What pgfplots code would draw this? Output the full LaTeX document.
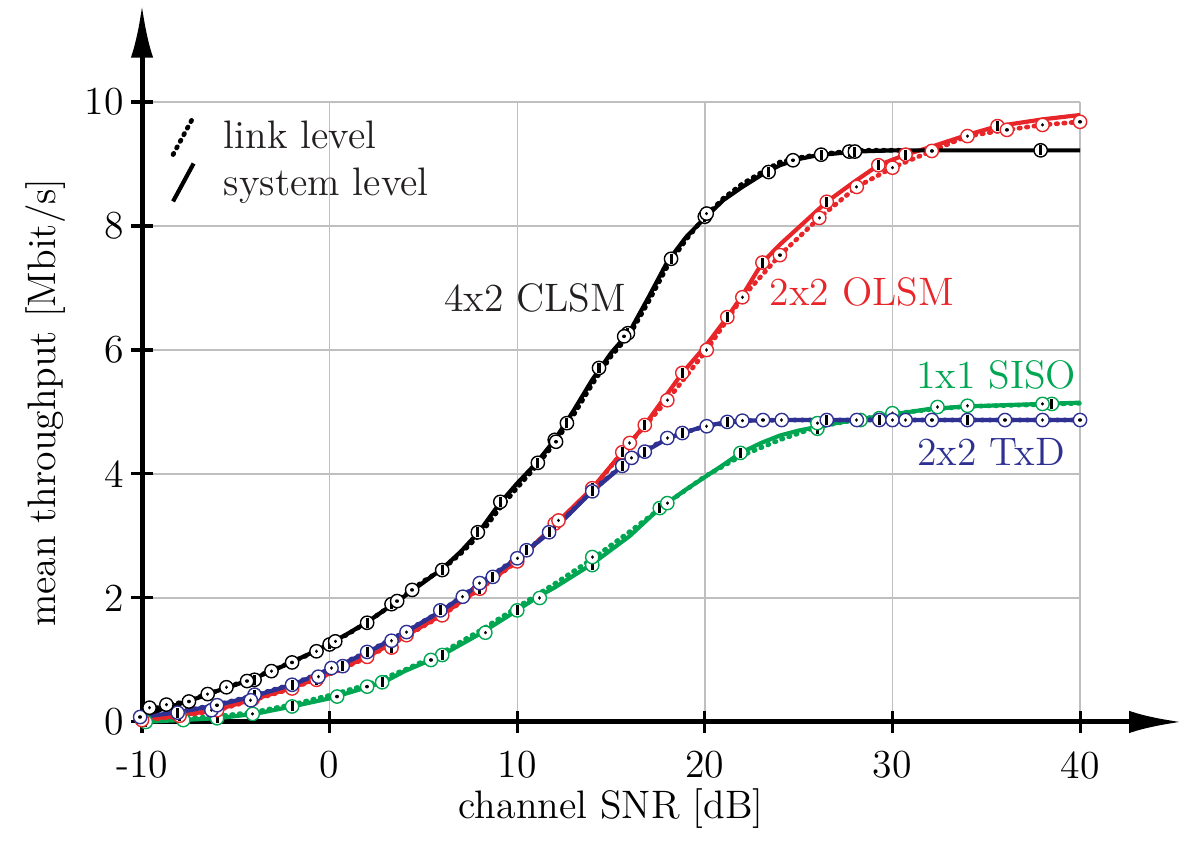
\documentclass[border=0pt]{standalone}
\usepackage{fontspec}
\usepackage{pgfplots}
\pgfplotsset{compat=1.18}
\usetikzlibrary{arrows.meta}
\definecolor{cred}{RGB}{232,38,42}
\definecolor{cgreen}{RGB}{0,166,81}
\definecolor{cblue}{RGB}{46,49,146}
\definecolor{ctext}{RGB}{35,31,32}
\pgfdeclareplotmark{cbar}{%
  \pgfpathcircle{\pgfpointorigin}{\pgfplotmarksize}%
  \pgfusepathqfillstroke
  \pgfscope
  \pgfsetlinewidth{1.1pt}\pgfsetstrokecolor{black}\pgfsetbuttcap
  \pgfpathmoveto{\pgfqpoint{0pt}{-0.75\pgfplotmarksize}}%
  \pgfpathlineto{\pgfqpoint{0pt}{0.75\pgfplotmarksize}}%
  \pgfusepathqstroke
  \endpgfscope}
\pgfdeclareplotmark{cdot}{%
  \pgfpathcircle{\pgfpointorigin}{\pgfplotmarksize}%
  \pgfusepathqfillstroke
  \pgfscope
  \pgfsetlinewidth{1.2pt}\pgfsetstrokecolor{black}\pgfsetroundcap
  \pgfpathmoveto{\pgfqpoint{0pt}{-0.05pt}}%
  \pgfpathlineto{\pgfqpoint{0pt}{0.05pt}}%
  \pgfusepathqstroke
  \endpgfscope}
\tikzset{
  sys/.style={line width=1.5pt, solid},
  lnk/.style={line width=1.7pt, dash pattern=on 0.5pt off 2.2pt, line cap=round},
}
\pgfplotsset{
  mk/.style={only marks, mark size=2.4pt, mark options={fill=white, line width=0.5pt, solid}},
}
\begin{document}
\begin{tikzpicture}[font=\fontsize{14.3}{17.2}\selectfont]
\begin{axis}[
  scale only axis, width=337.7pt, height=223.2pt,
  xmin=-10, xmax=40, ymin=0, ymax=10,
  axis lines=left,
  x axis line style={line width=1.8pt, -{Latex[length=19pt,width=8pt]}, shorten >=-36.7pt},
  y axis line style={line width=1.8pt, -{Latex[length=19pt,width=8pt]}, shorten >=-35pt},
  xtick={-10,0,10,20,30,40}, xticklabels={-10,0,10,20,30,40},
  ytick={0,2,4,6,8,10}, yticklabels={0,2,4,6,8,10},
  tick align=center, major tick length=8pt,
  tick style={line width=1.1pt, black},
  grid=major, grid style={line width=0.5pt, black!25},
  xticklabel style={yshift=-3pt},
  yticklabel style={xshift=1pt},
  clip=false,
  legend cell align=left,
  legend style={draw=none, fill=none, at={(rel axis cs:0.03,0.99)}, anchor=north west,
    row sep=1pt, text=ctext, inner xsep=0pt},
  legend image code/.code={\draw[#1] (0.1cm,-0.22cm) -- (0.36cm,0.26cm); \path (0.62cm,0);},
]
\addlegendimage{black, lnk}
\addlegendentry{link level}
\addlegendimage{black, sys}
\addlegendentry{system level}

% ---------------- green 1x1 SISO
\addplot[cgreen, sys, forget plot] coordinates {(-10,0.0)(-8,0.03)(-6,0.06)(-4,0.13)(-2,0.25)(0,0.38)(2,0.56)(3,0.66)(4,0.82)(6,1.08)(8,1.42)(10,1.8)(11,2.0)(12,2.17)(14,2.55)(16,3.0)(17.6,3.45)(19,3.75)(20,3.95)(21,4.15)(21.9,4.34)(23,4.5)(24,4.62)(25,4.7)(26,4.76)(27,4.82)(28,4.87)(30,4.96)(32,5.05)(34,5.09)(36,5.11)(38,5.13)(40,5.15)};
\addplot[cgreen, lnk, forget plot] coordinates {(-10,0.02)(-8,0.05)(-6,0.09)(-4,0.16)(-2,0.28)(0,0.43)(2,0.6)(4,0.84)(6,1.12)(8,1.47)(10,1.85)(12,2.23)(14,2.63)(16,3.07)(18,3.53)(20,3.96)(22,4.3)(24,4.55)(26,4.76)(28,4.87)(30,4.97)(32,5.04)(34,5.09)(38,5.12)(40,5.14)};
\addplot[cgreen, mk, mark=cbar, forget plot] coordinates {(-9.8,0.0)(-6,0.06)(-2,0.25)(2.8,0.64)(6,1.08)(10,1.8)(14,2.53)(17.6,3.45)(21.9,4.34)(26,4.73)(29.3,4.9)(38.5,5.13)};
\addplot[cgreen, mk, mark=cdot, forget plot] coordinates {(-7.8,0.03)(-4.1,0.13)(0.4,0.41)(2,0.57)(5.4,1.0)(8.3,1.44)(11.2,2.0)(14,2.66)(18,3.53)(26,4.82)(28.3,4.87)(30,4.98)(32.4,5.08)(34,5.1)(38,5.13)};

% ---------------- red 2x2 OLSM
\addplot[cred, sys, forget plot] coordinates {(-10,0.04)(-8,0.1)(-6,0.2)(-4,0.37)(-2,0.55)(0,0.78)(2,1.05)(4,1.38)(6,1.73)(8,2.15)(10,2.6)(12,3.18)(14,3.77)(15.6,4.35)(16.8,4.79)(18.8,5.63)(20,6.05)(21.2,6.53)(22,6.88)(23.07,7.41)(24,7.7)(26.5,8.39)(28,8.72)(29.25,8.98)(30.7,9.15)(32,9.27)(34,9.47)(35.6,9.61)(38,9.72)(40,9.79)};
\addplot[cred, lnk, forget plot] coordinates {(-10,0.03)(-8,0.09)(-6,0.19)(-4,0.36)(-2,0.54)(0,0.77)(2,1.04)(4,1.37)(6,1.72)(8,2.14)(10,2.59)(12,3.17)(14,3.75)(16,4.5)(18,5.19)(20.1,6.0)(22,6.85)(24,7.53)(26.1,8.13)(28.1,8.63)(30,8.94)(32.1,9.21)(34,9.45)(36.1,9.55)(38,9.63)(40,9.68)};
\addplot[cred, mk, mark=cbar, forget plot] coordinates {(-8,0.1)(-4.1,0.37)(-0.7,0.68)(3.3,1.2)(8,2.15)(12,3.2)(14,3.77)(15.6,4.35)(16.8,4.79)(18.8,5.63)(21.2,6.53)(23.07,7.41)(26.5,8.39)(29.25,8.98)(30.7,9.15)(35.6,9.61)};
\addplot[cred, mk, mark=cdot, forget plot] coordinates {(-10,0.03)(-6,0.19)(-2,0.54)(2,1.05)(4.1,1.4)(6,1.72)(10,2.59)(12.2,3.25)(16,4.5)(18,5.19)(20.1,6.0)(22,6.85)(24,7.53)(26.1,8.13)(28.1,8.63)(30,8.94)(32.1,9.21)(34,9.45)(36.1,9.55)(38,9.63)(40,9.68)};

% ---------------- blue 2x2 TxD
\addplot[cblue, sys, forget plot] coordinates {(-10,0.08)(-8,0.16)(-6,0.27)(-4,0.42)(-2,0.6)(0,0.84)(2,1.12)(4,1.44)(6,1.8)(8,2.22)(10,2.64)(12,3.12)(14,3.72)(15.6,4.13)(16.8,4.36)(18,4.57)(18.8,4.66)(20,4.77)(21.2,4.84)(22,4.86)(24,4.87)(40,4.87)};
\addplot[cblue, lnk, forget plot] coordinates {(-10,0.09)(-8,0.17)(-6,0.28)(-4,0.43)(-2,0.61)(0,0.85)(2,1.13)(4,1.45)(6,1.8)(8,2.23)(10,2.65)(12,3.13)(14,3.73)(16,4.24)(18,4.58)(20,4.77)(22,4.86)(24,4.87)(40,4.87)};
\addplot[cblue, mk, mark=cbar, forget plot] coordinates {(-8.1,0.15)(-4,0.44)(-2,0.6)(0.7,0.9)(2,1.13)(5.9,1.8)(8.7,2.34)(10.5,2.77)(11.7,3.06)(14,3.72)(15.6,4.13)(16.8,4.36)(18.8,4.66)(21.2,4.84)(26.5,4.87)(29.3,4.87)(34,4.87)};
\addplot[cblue, mk, mark=cdot, forget plot] coordinates {(-10.1,0.08)(-6.3,0.19)(-6,0.27)(-4.2,0.35)(-0.6,0.73)(0.1,0.87)(3.3,1.31)(4.1,1.45)(7.1,2.02)(8,2.24)(10,2.64)(16.1,4.26)(18,4.58)(20.1,4.77)(22,4.86)(23.1,4.87)(24.1,4.87)(28.1,4.87)(30,4.87)(30.7,4.87)(32.1,4.87)(36,4.87)(38,4.87)(40,4.87)};

% ---------------- black 4x2 CLSM
\addplot[black, sys, forget plot] coordinates {(-10,0.1)(-9,0.2)(-8,0.29)(-7,0.39)(-6,0.5)(-5,0.6)(-4,0.71)(-3,0.83)(-2,0.97)(-1,1.11)(0,1.26)(1,1.43)(2,1.61)(3,1.82)(4,2.03)(5,2.25)(6,2.47)(7,2.75)(8,3.08)(9,3.5)(10,3.85)(11,4.17)(12,4.55)(13,5.02)(14,5.52)(15,5.95)(16,6.3)(17,6.85)(18,7.42)(19,7.82)(20,8.13)(21,8.42)(22,8.63)(23,8.82)(24,8.98)(25,9.08)(26,9.14)(28,9.2)(30,9.22)(40,9.22)};
\addplot[black, lnk, forget plot] coordinates {(-10,0.15)(-9,0.25)(-8,0.31)(-7,0.4)(-6,0.5)(-5,0.61)(-4,0.72)(-3,0.84)(-2,0.97)(-1,1.1)(0,1.26)(1,1.42)(2,1.61)(3,1.82)(4,2.05)(5,2.27)(6,2.46)(7,2.72)(8,3.02)(9,3.42)(10,3.78)(11,4.12)(12,4.5)(13,4.95)(14,5.45)(15,5.9)(16,6.25)(17,6.78)(18,7.35)(19,7.78)(20,8.15)(21,8.45)(22,8.68)(23,8.86)(24,9.03)(25,9.1)(26,9.15)(28,9.22)(31,9.22)};
\addplot[black, mk, mark=cbar, forget plot] coordinates {(-4.0,0.68)(0,1.25)(2,1.6)(3.3,1.9)(6,2.45)(7.9,3.06)(9.1,3.55)(11.1,4.18)(12,4.55)(12.65,4.82)(14.36,5.71)(15.9,6.27)(18.2,7.47)(20,8.15)(23.4,8.87)(26.2,9.15)(27.7,9.2)(28,9.2)(37.9,9.22)};
\addplot[black, mk, mark=cdot, forget plot] coordinates {(-9.6,0.23)(-8.7,0.28)(-7.5,0.33)(-6.5,0.45)(-5.5,0.56)(-4.4,0.66)(-3.1,0.82)(-2,0.96)(-0.7,1.14)(0.3,1.3)(3.6,1.95)(4.4,2.13)(12.07,4.52)(15.7,6.22)(20.1,8.2)(24.7,9.06)};

\node[text=ctext, anchor=center] at (axis cs:10.95,6.84) {4x2 CLSM};
\node[text=cred, anchor=center] at (axis cs:28.38,6.94) {2x2 OLSM};
\node[text=cgreen, anchor=center] at (axis cs:35.52,5.6) {1x1 SISO};
\node[text=cblue, anchor=center] at (axis cs:35.26,4.35) {2x2 TxD};
\node[anchor=center] at (rel axis cs:0.5,-0.14) {channel SNR [dB]};
\node[rotate=90, anchor=center] at (rel axis cs:-0.103,0.515) {mean throughput [Mbit/s]};

\path (rel axis cs:-0.1514,-0.1984) rectangle (rel axis cs:1.1279,1.1645);
\end{axis}
\end{tikzpicture}
\end{document}
